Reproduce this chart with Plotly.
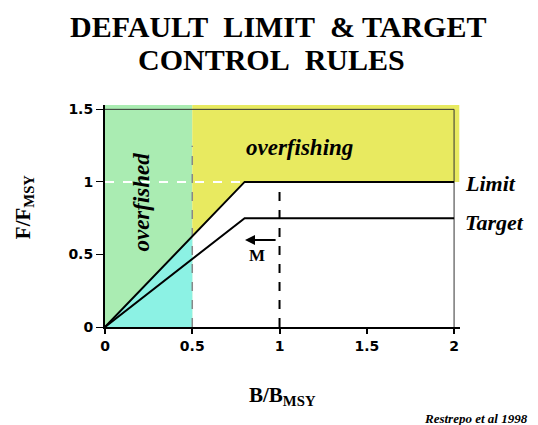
import plotly.graph_objects as go

# control rule lines (B/Bmsy vs F/Fmsy)
limit_x = [0, 0.8, 2]
limit_y = [0, 1, 1]
target_x = [0, 0.8, 2]
target_y = [0, 0.75, 0.75]

# shaded zones
overfished_x = [0, 0.5, 0.5, 0, 0]
overfished_y = [0, 0, 1.53, 1.53, 0]
cyan_x = [0, 0.5, 0.5, 0]
cyan_y = [0, 0, 0.625, 0]
overfishing_x = [0.5, 0.8, 2.03, 2.03, 0.5, 0.5]
overfishing_y = [0.625, 1, 1, 1.53, 1.53, 0.625]

# reference lines
fmsy_x = [0, 0.8]
fmsy_y = [1, 1]
bthresh_x = [0.5, 0.5]
bthresh_y = [0, 1.25]
bmsy_x = [1, 1]
bmsy_y = [0, 1]
frame_x = [0, 2, 2]
frame_y = [1.5, 1.5, 0]

x_ticks = [0, 0.5, 1, 1.5, 2]
y_ticks = [0, 0.5, 1, 1.5]

serif = "Liberation Serif"

fig = go.Figure()
fig.add_trace(go.Scatter(x=overfished_x, y=overfished_y, fill="toself", mode="none",
                         fillcolor="#aaecb2", hoverinfo="skip"))
fig.add_trace(go.Scatter(x=cyan_x, y=cyan_y, fill="toself", mode="none",
                         fillcolor="#8cf2e4", hoverinfo="skip"))
fig.add_trace(go.Scatter(x=overfishing_x, y=overfishing_y, fill="toself", mode="none",
                         fillcolor="#e8ea60", hoverinfo="skip"))
fig.add_trace(go.Scatter(x=frame_x, y=frame_y, mode="lines",
                         line=dict(color="#333333", width=1)))
fig.add_trace(go.Scatter(x=fmsy_x, y=fmsy_y, mode="lines",
                         line=dict(color="white", width=2, dash="dash")))
fig.add_trace(go.Scatter(x=bthresh_x, y=bthresh_y, mode="lines",
                         line=dict(color="#888888", width=1.5, dash="dash")))
fig.add_trace(go.Scatter(x=bmsy_x, y=bmsy_y, mode="lines",
                         line=dict(color="black", width=2, dash="dash")))
fig.add_trace(go.Scatter(x=limit_x, y=limit_y, mode="lines",
                         line=dict(color="black", width=2)))
fig.add_trace(go.Scatter(x=target_x, y=target_y, mode="lines",
                         line=dict(color="black", width=2)))

fig.update_layout(
    width=538, height=425,
    margin=dict(l=105, r=78, t=105, b=98),
    plot_bgcolor="white", paper_bgcolor="white",
    showlegend=False,
)
fig.update_xaxes(range=[0, 2.034], tickvals=x_ticks, ticktext=["0", "0.5", "1", "1.5", "2"],
                 showgrid=False, zeroline=False, showline=True, linecolor="black", linewidth=2,
                 ticks="outside", ticklen=5, tickwidth=2, tickcolor="black",
                 tickfont=dict(family="DejaVu Sans", size=14, color="black", weight="bold"))
fig.update_yaxes(range=[0, 1.53], tickvals=y_ticks, ticktext=["0", "0.5", "1", "1.5"],
                 showgrid=False, zeroline=False, showline=True, linecolor="black", linewidth=2,
                 ticks="outside", ticklen=7, tickwidth=1, tickcolor="black",
                 tickfont=dict(family="DejaVu Sans", size=14, color="black", weight="bold"))

bold = dict(family=serif, color="black", weight="bold")
bi = dict(bold, style="italic")

# title, two lines
fig.add_annotation(xref="paper", yref="paper", x=0.487, y=1.352, text="DEFAULT&nbsp; LIMIT&nbsp; &amp; TARGET",
                   showarrow=False, yanchor="middle", font=dict(size=30, **bold))
fig.add_annotation(xref="paper", yref="paper", x=0.47, y=1.207, text="CONTROL&nbsp; RULES",
                   showarrow=False, yanchor="middle", font=dict(size=30, **bold))

fig.add_annotation(x=1.117, y=1.235, text="overfishing", showarrow=False,
                   font=dict(size=23, **bi))
fig.add_annotation(x=0.21, y=0.862, text="overfished", showarrow=False, textangle=-90,
                   font=dict(size=23, **bi))
fig.add_annotation(xref="paper", x=1.008, y=0.99, text="Limit", showarrow=False, xanchor="left",
                   yanchor="middle", font=dict(size=22, **bi))
fig.add_annotation(xref="paper", x=1.008, y=0.72, text="Target", showarrow=False, xanchor="left",
                   yanchor="middle", font=dict(size=22, **bi))
fig.add_annotation(x=0.802, y=0.6, ax=0.986, ay=0.6, axref="x", ayref="y", text="",
                   showarrow=True, arrowhead=2, arrowsize=1, arrowwidth=2, arrowcolor="black")
fig.add_annotation(x=0.871, y=0.49, text="M", showarrow=False, font=dict(size=17, **bold))

fig.add_annotation(xref="paper", yref="paper", x=0.501, y=-0.31, text="B/B<sub>MSY</sub>",
                   showarrow=False, yanchor="middle", font=dict(size=21, **bold))
fig.add_annotation(xref="paper", yref="paper", x=-0.228, y=0.54, text="F/F<sub>MSY</sub>",
                   showarrow=False, textangle=-90, xanchor="center", yanchor="middle",
                   font=dict(size=21, **bold))
fig.add_annotation(xref="paper", yref="paper", x=1.197, y=-0.414, text="<i>Restrepo et al 1998</i>",
                   showarrow=False, xanchor="right", yanchor="middle", font=dict(size=13, **bi))

# drop the page's default body margin so the figure sits at the window's corner
fig.write_html("out.html", config={"displayModeBar": False},
               post_script="document.body.style.margin='0';")
